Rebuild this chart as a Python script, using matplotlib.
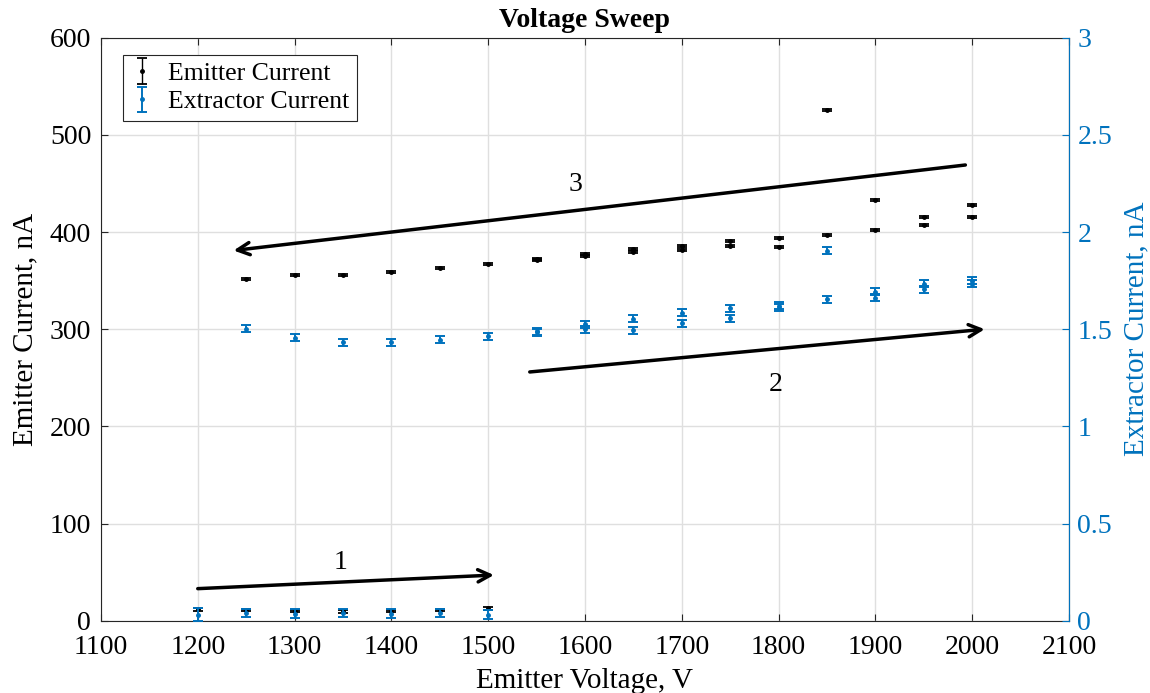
import matplotlib
matplotlib.use("Agg")
import matplotlib.pyplot as plt
from matplotlib.ticker import FuncFormatter

plt.rcParams['font.family'] = ['Liberation Serif', 'DejaVu Serif']

# sweep 1: low voltages, almost no emission
volt_1 = [1200, 1250, 1300, 1350, 1400, 1450, 1500]
emit_1 = [12, 11, 10, 9.5, 10, 11, 13]
extr_1 = [0.031, 0.04, 0.036, 0.04, 0.036, 0.04, 0.031]
emit_err_1 = [1.5, 1.2, 1.2, 1.2, 1.2, 1.2, 1.5]
extr_err_1 = [0.033, 0.022, 0.022, 0.022, 0.022, 0.022, 0.024]

# sweep 2: going up
volt_2 = [1550, 1600, 1650, 1700, 1750, 1800, 1850, 1900, 1950, 2000]
emit_2 = [372, 377, 382.5, 386, 390.5, 394, 526, 433, 415, 428]
extr_2 = [1.49, 1.525, 1.554, 1.584, 1.607, 1.62, 1.905, 1.692, 1.735, 1.749]

# sweep 3: coming back down
volt_3 = [2000, 1950, 1900, 1850, 1800, 1750, 1700, 1650,
          1600, 1550, 1500, 1450, 1400, 1350, 1300, 1250]
emit_3 = [415.5, 407.6, 402, 397.4, 385, 385.3, 381.8, 379,
          375, 371, 366.7, 363, 358.5, 355.7, 355.4, 352]
extr_3 = [1.735, 1.706, 1.663, 1.653, 1.61, 1.556, 1.53, 1.495,
          1.5, 1.485, 1.465, 1.445, 1.434, 1.432, 1.456, 1.503]

emit_err_hi = 1.0
extr_err_hi = 0.018

# arrows: (start voltage, start current) -> (end voltage, end current), label
arrows = [
    ((1200, 33), (1506, 47), "1", (1347, 60)),
    ((1543, 256), (2013, 300), "2", (1797, 243)),
    ((1993, 469), (1237, 381), "3", (1590, 449)),
]

blue = '#0072BD'
dark = '#262626'

volts = volt_1 + volt_2 + volt_3
emits = emit_1 + emit_2 + emit_3
extrs = extr_1 + extr_2 + extr_3
emit_errs = emit_err_1 + [emit_err_hi] * (len(volt_2) + len(volt_3))
extr_errs = extr_err_1 + [extr_err_hi] * (len(volt_2) + len(volt_3))

fig = plt.figure(figsize=(11.5, 6.93), dpi=100)
ax = fig.add_axes([0.0878, 0.1043, 0.8417, 0.8413])
ax2 = ax.twinx()

h1 = ax.errorbar(volts, emits, yerr=emit_errs, fmt='.', color='k',
                 markersize=5, capsize=3.5, elinewidth=1, capthick=1.3,
                 label='Emitter Current', zorder=3)
h2 = ax2.errorbar(volts, extrs, yerr=extr_errs, fmt='.', color=blue,
                  markersize=5, capsize=3.5, elinewidth=1.4, capthick=1.4,
                  label='Extractor Current', zorder=3)

ax.set_xlim(1100, 2100)
ax.set_ylim(0, 600)
ax2.set_ylim(0, 3)
ax.set_xticks(range(1100, 2101, 100))
ax.set_yticks(range(0, 601, 100))
ax2.set_yticks([0, 0.5, 1, 1.5, 2, 2.5, 3])
ax2.yaxis.set_major_formatter(FuncFormatter(lambda v, p: '%g' % v))

ax.grid(True, color='#dfdfdf', linewidth=1)
ax.set_axisbelow(True)

ax.tick_params(axis='x', direction='in', top=True, length=5,
               labelsize=20, colors=dark, labelcolor='k', pad=10)
ax.tick_params(axis='y', direction='in', right=False, length=5,
               labelsize=20, colors=dark, labelcolor='k', pad=7)
ax2.tick_params(axis='y', direction='in', length=5, labelsize=20,
                colors=blue, pad=6)

for s in ['left', 'bottom', 'top']:
    ax.spines[s].set_color(dark)
ax2.spines['right'].set_color(blue)
ax2.spines['left'].set_visible(False)
ax2.spines['top'].set_visible(False)
ax2.spines['bottom'].set_visible(False)

ax.set_xlabel('Emitter Voltage, V', fontsize=21, labelpad=6)
ax.set_ylabel('Emitter Current, nA', fontsize=21, labelpad=8)
ax2.set_ylabel('Extractor Current, nA', fontsize=21, color=blue, labelpad=8)
ax.set_title('Voltage Sweep', fontsize=20, fontweight='bold', pad=8)

for start, end, txt, pos in arrows:
    ax.annotate('', xy=end, xytext=start,
                arrowprops=dict(arrowstyle='->', lw=2.5, color='k',
                                mutation_scale=22, shrinkA=0, shrinkB=0),
                zorder=4)
    ax.text(pos[0], pos[1], txt, fontsize=20, ha='center', va='center')

leg = ax.legend([h1, h2], ['Emitter Current', 'Extractor Current'],
                loc='upper left', bbox_to_anchor=(0.0227, 0.971),
                borderaxespad=0, fontsize=18.5, fancybox=False,
                edgecolor=dark, framealpha=1, handlelength=0.9,
                handletextpad=0.55, borderpad=0.3, labelspacing=0.2)
leg.get_frame().set_linewidth(0.8)
leg.set_zorder(5)

fig.savefig('out.png', dpi=100)
